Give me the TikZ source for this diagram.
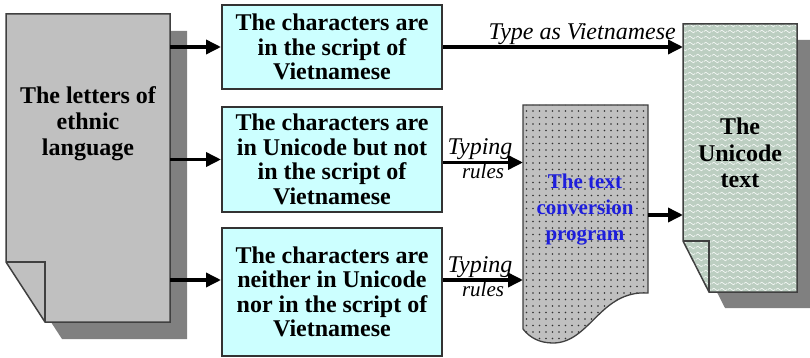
\documentclass[tikz,border=0pt]{standalone}
\usepackage{fontspec}
\setmainfont{Liberation Serif}
\usetikzlibrary{arrows.meta,patterns.meta}
\definecolor{silverc}{HTML}{C0C0C0}
\definecolor{shadowc}{HTML}{808080}
\definecolor{boxfill}{HTML}{CCFFFF}
\definecolor{unifill}{HTML}{BCCEC1}
\definecolor{convblue}{RGB}{30,30,220}
\definecolor{dotc}{HTML}{303030}
\tikzdeclarepattern{name=sdots, type=uncolored,
  bounding box={(-1pt,-1pt) and (1pt,1pt)}, tile size={(6.5pt,6.5pt)},
  code={\fill (0pt,0pt) circle (0.85pt);}}
\tikzdeclarepattern{name=swaves, type=uncolored,
  bounding box={(0pt,0pt) and (8pt,5.5pt)}, tile size={(8pt,5.5pt)},
  code={\draw[line width=0.7pt] (0pt,2.75pt) .. controls (2pt,4.6pt) .. (4pt,2.75pt) .. controls (6pt,0.9pt) .. (8pt,2.75pt);}}
\begin{document}
\begin{tikzpicture}[x=1pt,y=-1pt,
  anchorbox/.style={inner sep=0pt, outer sep=0pt, draw=none},
  docline/.style={draw=black!75, line width=1.5pt, line join=miter},
  bigtxt/.style={align=center, font=\bfseries\fontsize{24}{26}\selectfont, inner sep=0pt},
  convtxt/.style={align=center, text=convblue, font=\bfseries\fontsize{21}{26}\selectfont, inner sep=0pt},
  box/.style={draw=black!80, line width=2pt, fill=boxfill, minimum width=220pt, inner sep=0pt,
    align=center, font=\bfseries\fontsize{24}{24.5}\selectfont},
  lbl/.style={font=\itshape\fontsize{24}{24}\selectfont, inner sep=1pt},
  lblsm/.style={font=\itshape\fontsize{21}{21}\selectfont, inner sep=0pt},
  arr/.style={line width=3.5pt, -{Triangle[length=15pt,width=14pt]}}]
\clip (0,0) rectangle (810,358);
\fill[white] (0,0) rectangle (810,358);

% ---- source document ----
\node[anchorbox, minimum width=164pt, minimum height=308pt] (src) at (88,168) {};
\fill[shadowc] ([shift={(17,17)}]src.north west) -- ([shift={(17,17)}]src.north east)
  -- ([shift={(17,17)}]src.south east) -- ([shift={(56,17)}]src.south west)
  -- ([shift={(17,-43)}]src.south west) -- cycle;
\path[docline, fill=silverc] (src.north west) -- (src.north east) -- (src.south east)
  -- ([shift={(39,0)}]src.south west) -- ([shift={(0,-60)}]src.south west) -- cycle;
\draw[docline] ([shift={(0,-60)}]src.south west) -- ([shift={(39,-60)}]src.south west)
  -- ([shift={(39,0)}]src.south west);
\node[bigtxt] (srctxt) at (88,124) {The letters of\\ethnic\\language};

% ---- three boxes ----
\node[box, minimum height=84pt] (b1) at (332,47) {The characters are\\in the script of\\Vietnamese};
\node[box, minimum height=105pt] (b2) at (332,159.5) {The characters are\\in Unicode but not\\in the script of\\Vietnamese};
\node[box, minimum height=128pt] (b3) at (332,292) {The characters are\\neither in Unicode\\nor in the script of\\Vietnamese};

% ---- conversion program ----
\node[anchorbox, minimum width=125pt, minimum height=188pt] (conv) at (585.5,199) {};
\path[docline, line width=1.3pt, preaction={fill=silverc}, pattern={sdots}, pattern color=dotc]
  (conv.north west) -- (conv.north east) -- (conv.south east)
  .. controls ([shift={(-48,-3)}]conv.south east) and ([shift={(67,50)}]conv.south west)
  .. ([shift={(30,50)}]conv.south west)
  .. controls ([shift={(17,50)}]conv.south west) and ([shift={(7,45)}]conv.south west)
  .. ([shift={(0,36)}]conv.south west) -- cycle;
\node[convtxt] (convtxt) at (585,210) {The text\\conversion\\program};

% ---- unicode document ----
\node[anchorbox, minimum width=114pt, minimum height=268pt] (uni) at (740,158) {};
\fill[shadowc] ([shift={(16,16)}]uni.north west) -- ([shift={(16,16)}]uni.north east)
  -- ([shift={(16,16)}]uni.south east) -- ([shift={(42,16)}]uni.south west)
  -- ([shift={(16,-35)}]uni.south west) -- cycle;
\path[docline, preaction={fill=unifill}, pattern={swaves}, pattern color=white!85!unifill]
  (uni.north west) -- (uni.north east) -- (uni.south east)
  -- ([shift={(26,0)}]uni.south west) -- ([shift={(0,-51)}]uni.south west) -- cycle;
\draw[docline] ([shift={(0,-51)}]uni.south west) -- ([shift={(26,-51)}]uni.south west)
  -- ([shift={(26,0)}]uni.south west);
\node[bigtxt, font=\bfseries\fontsize{24}{26.5}\selectfont] (unitxt) at (740,153) {The\\Unicode\\text};

% ---- connectors ----
\draw[arr] (src.east |- b1.west) -- (b1.west);
\draw[arr] (src.east |- b2.west) -- (b2.west);
\coordinate (a3) at ([shift={(0,-12)}]b3.west);
\draw[arr] (src.east |- a3) -- (a3);

\draw[arr] (b1.east) -- (b1.east -| uni.west) node[lbl, above, pos=0.58] {Type as Vietnamese};
\coordinate (a2r) at ([shift={(0,3)}]b2.east);
\draw[arr] (a2r) -- (a2r -| conv.west) node[lbl, above, midway, xshift=-3pt] {Typing} node[lblsm, below, midway] {rules};
\coordinate (a3r) at ([shift={(0,-12)}]b3.east);
\draw[arr] (a3r) -- (a3r -| conv.west) node[lbl, above, midway, xshift=-3pt] {Typing} node[lblsm, below, midway] {rules};
\coordinate (c1) at ([shift={(0,16)}]conv.east);
\draw[arr] (c1) -- (c1 -| uni.west);
\end{tikzpicture}
\end{document}
